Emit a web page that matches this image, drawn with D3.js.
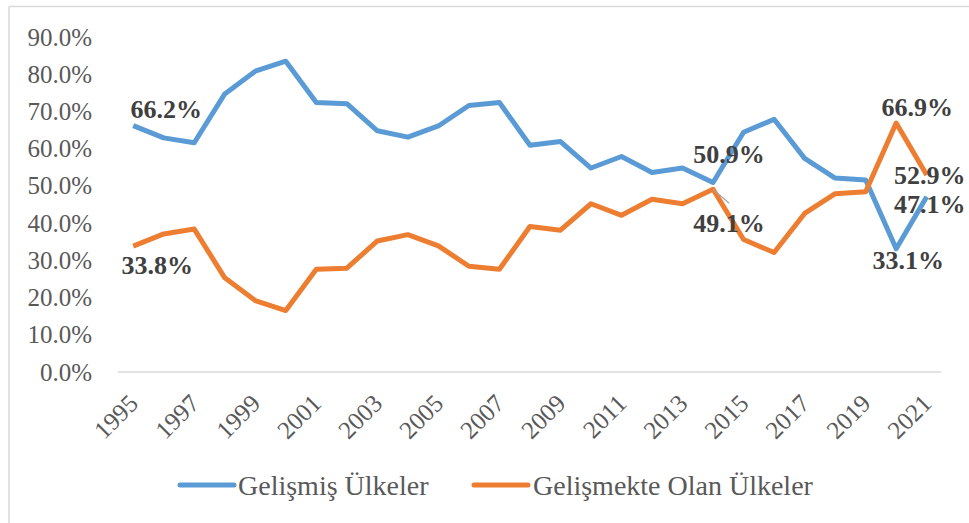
<!DOCTYPE html>
<html><head><meta charset="utf-8">
<script src="https://cdn.jsdelivr.net/npm/d3@7"></script>
<style>
html,body{margin:0;padding:0;background:#fff;}
</style></head>
<body><svg id="c" width="969" height="523"></svg>
<script>
const years = ["1995","1996","1997","1998","1999","2000","2001","2002","2003","2004","2005","2006","2007","2008","2009","2010","2011","2012","2013","2014","2015","2016","2017","2018","2019","2020","2021"];
const developed = [66.2,62.9,61.6,74.7,80.8,83.5,72.4,72.1,64.8,63.1,66.1,71.6,72.4,60.9,61.9,54.8,57.9,53.6,54.8,50.9,64.4,67.9,57.4,52.1,51.6,33.1,47.1];
const developing = [33.8,37.1,38.4,25.3,19.2,16.5,27.6,27.9,35.2,36.9,33.9,28.4,27.6,39.1,38.1,45.2,42.1,46.4,45.2,49.1,35.6,32.1,42.6,47.9,48.4,66.9,52.9];
const seriesNames = ["Gelişmiş Ülkeler","Gelişmekte Olan Ülkeler"];
const colors = ["#5B9BD5","#ED7D31"];
const yTicks = [0,10,20,30,40,50,60,70,80,90];
const xTickLabels = years.filter((d,i)=>i%2===0);
// labelled points: [seriesIndex, yearIndex, dx, dy(baseline offset)]
const labelled = [[0,0,33,-8],[1,0,24,28],[0,19,16,-20],[1,19,16,43],[1,25,21,-7],[0,25,12,20],[1,26,3,9],[0,26,3,16]];

const FONT = '"Liberation Serif"';
const svg = d3.select("#c");
const x = d3.scalePoint().domain(years).range([133.2,926.7]);
const y = d3.scaleLinear().domain([0,90]).range([372,37]);

// frame
svg.append("line").attr("x1",9).attr("x2",969).attr("y1",6.5).attr("y2",6.5).attr("stroke","#D9D9D9").attr("stroke-width",1.5);
svg.append("line").attr("x1",9).attr("x2",9).attr("y1",6.5).attr("y2",523).attr("stroke","#D9D9D9").attr("stroke-width",1.5);

// y axis labels
const yAxis = d3.axisLeft(y).tickValues(yTicks).tickFormat(d=>d3.format(".1f")(d)+"%").tickSize(0).tickPadding(0);
const gy = svg.append("g").attr("transform","translate(92,0)").call(yAxis);
gy.attr("font-family",FONT);
gy.select(".domain").remove();
gy.selectAll("text").attr("font-family",FONT).attr("font-size",25).attr("fill","#595959");

// baseline
svg.append("line").attr("x1",118).attr("x2",941).attr("y1",y(0)).attr("y2",y(0)).attr("stroke","#D9D9D9").attr("stroke-width",1.5);

// x axis labels
const xAxis = d3.axisBottom(x).tickValues(xTickLabels).tickSize(0).tickPadding(0);
const gx = svg.append("g").attr("transform",`translate(0,${y(0)})`).call(xAxis);
gx.attr("font-family",FONT);
gx.select(".domain").remove();
gx.selectAll("text").attr("font-family",FONT).attr("font-size",25).attr("fill","#595959")
  .attr("text-anchor","end").attr("dy",null).attr("y",null)
  .attr("transform","translate(0,27) rotate(-45)").attr("dominant-baseline","central");

// lines
const data = [developed, developing];
const line = d3.line().x((d,i)=>x(years[i])).y(d=>y(d));
data.forEach((s,k)=>{
  svg.append("path").datum(s).attr("d",line).attr("fill","none")
    .attr("stroke",colors[k]).attr("stroke-width",5).attr("stroke-linejoin","round");
});

// leader line for 49.1%
svg.append("line").attr("x1",x("2014")).attr("y1",y(49.1)).attr("x2",x("2014")+16).attr("y2",y(49.1)+14)
  .attr("stroke","#A6A6A6").attr("stroke-width",1.2);

// data labels
labelled.forEach(([k,i,dx,dy])=>{
  const v = data[k][i];
  svg.append("text").attr("x",x(years[i])+dx).attr("y",y(v)+dy)
    .attr("text-anchor","middle").attr("font-family",FONT).attr("font-size",26).attr("font-weight","bold")
    .attr("fill","#404040").text(d3.format(".1f")(v)+"%");
});
// legend
const legend = [[180,234,238],[474,528,533]];
seriesNames.forEach((n,k)=>{
  const [a,b,t]=legend[k];
  svg.append("line").attr("x1",a).attr("x2",b).attr("y1",485).attr("y2",485)
    .attr("stroke",colors[k]).attr("stroke-width",5).attr("stroke-linecap","round");
  svg.append("text").attr("x",t).attr("y",485).attr("dy","0.35em").attr("font-family",FONT).attr("font-size",28)
    .attr("fill","#595959").text(n);
});
</script></body></html>
